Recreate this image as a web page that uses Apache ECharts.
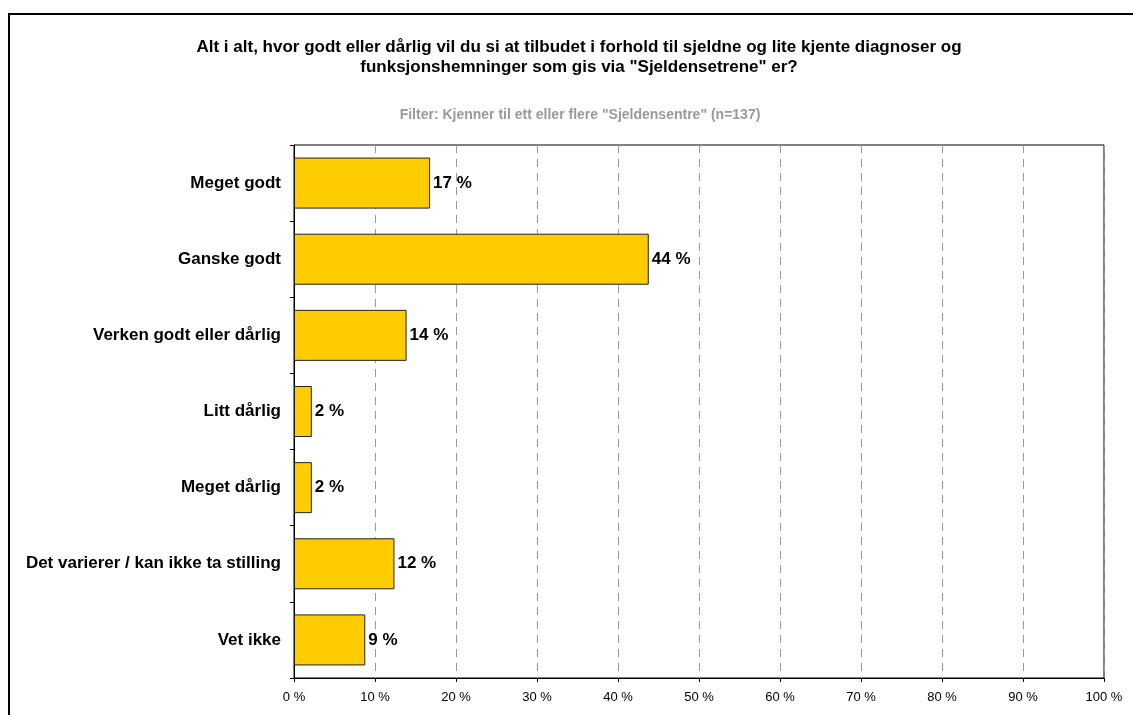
<!DOCTYPE html>
<html>
<head>
<meta charset="utf-8">
<script src="https://cdn.jsdelivr.net/npm/echarts@6/dist/echarts.min.js"></script>
<style>
    html, body { margin: 0; padding: 0; background: #fff; overflow: hidden; }
    #frame {
        position: absolute; left: 8px; top: 13px;
        width: 1200px; height: 800px;
        border: 2px solid #000;
    }
    #chart { position: absolute; left: 0; top: 0; width: 1133px; height: 715px; }
</style>
</head>
<body>
<div id="frame"></div>
<div id="chart"></div>
<script>
// svarkategorier (ovenfra og ned)
const categories = [
    'Meget godt',
    'Ganske godt',
    'Verken godt eller dårlig',
    'Litt dårlig',
    'Meget dårlig',
    'Det varierer / kan ikke ta stilling',
    'Vet ikke'
];
const percentages = [16.8, 43.8, 13.9, 2.2, 2.2, 12.4, 8.8];
const barLabels = ['17 %', '44 %', '14 %', '2 %', '2 %', '12 %', '9 %'];
const xTicks = [0, 10, 20, 30, 40, 50, 60, 70, 80, 90, 100];

const titleText = 'Alt i alt, hvor godt eller dårlig vil du si at tilbudet i forhold til sjeldne og lite kjente diagnoser og\nfunksjonshemninger som gis via "Sjeldensetrene" er?';
const filterText = 'Filter: Kjenner til ett eller flere "Sjeldensentre" (n=137)';

function initChart() {
    const chart = echarts.init(document.getElementById('chart'));

    const option = {
        animation: false,
        textStyle: { fontFamily: 'Liberation Sans, Arial, sans-serif' },
        title: [{
            text: titleText,
            left: 574,
            top: 32,
            textAlign: 'center',
            textStyle: {
                fontSize: 17,
                fontWeight: 'bold',
                color: '#000',
                lineHeight: 20,
                align: 'center'
            }
        }, {
            text: filterText,
            left: 575,
            top: 103,
            textAlign: 'center',
            textStyle: {
                fontSize: 14,
                fontWeight: 'bold',
                color: '#999'
            }
        }],
        grid: {
            left: 294,
            top: 145,
            width: 810,
            height: 533,
            show: true,
            borderColor: '#000',
            borderWidth: 1,
            containLabel: false
        },
        xAxis: {
            type: 'value',
            min: 0,
            max: 100,
            interval: 10,
            axisLine: { show: true, lineStyle: { color: '#000', width: 1 } },
            axisTick: { show: true, length: 4, lineStyle: { color: '#000' } },
            axisLabel: {
                margin: 13,
                fontSize: 13,
                color: '#000',
                formatter: function (v) { return xTicks.indexOf(v) >= 0 ? v + ' %' : ''; }
            },
            splitLine: {
                show: true,
                lineStyle: { color: '#999', type: [8, 6], width: 1 }
            }
        },
        yAxis: {
            type: 'category',
            data: categories,
            inverse: true,
            axisLine: { show: true, lineStyle: { color: '#000', width: 1 } },
            axisTick: { show: true, length: 4, inside: false, lineStyle: { color: '#000' } },
            axisLabel: {
                margin: 13,
                fontSize: 17,
                fontWeight: 'bold',
                color: '#000'
            }
        },
        series: [{
            type: 'bar',
            data: percentages,
            barCategoryGap: '33%',
            itemStyle: {
                color: '#FFCC00',
                borderColor: '#222',
                borderWidth: 1
            },
            label: {
                show: true,
                position: 'right',
                distance: 3,
                fontSize: 17,
                fontWeight: 'bold',
                color: '#000',
                formatter: function (p) { return barLabels[p.dataIndex]; }
            }
        }]
    };

    chart.setOption(option);
}

window.onload = function () {
    initChart();
};
</script>
</body>
</html>
